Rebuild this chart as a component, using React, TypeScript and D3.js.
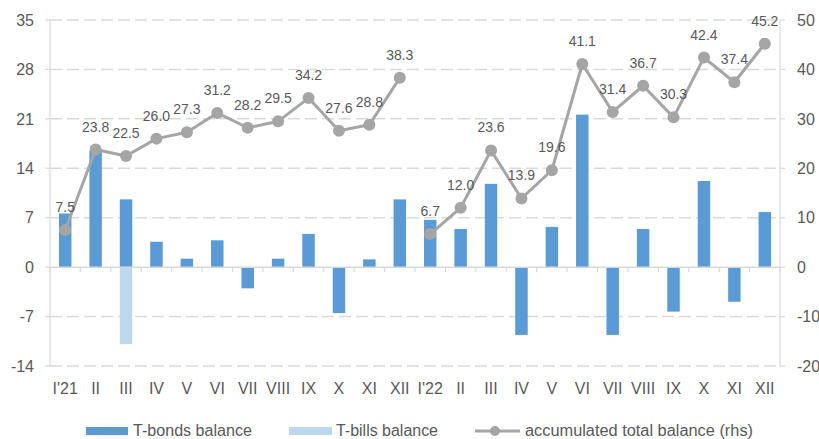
import React from "react";
import * as d3 from "d3";

const categories = ["I'21","II","III","IV","V","VI","VII","VIII","IX","X","XI","XII","I'22","II","III","IV","V","VI","VII","VIII","IX","X","XI","XII"];
const years = ["2021","2021","2021","2021","2021","2021","2021","2021","2021","2021","2021","2021","2022","2022","2022","2022","2022","2022","2022","2022","2022","2022","2022","2022"];
const tBonds = [7.6,16.5,9.6,3.6,1.2,3.8,-3.0,1.2,4.7,-6.5,1.1,9.6,6.7,5.4,11.8,-9.6,5.7,21.6,-9.6,5.4,-6.3,12.2,-4.9,7.8];
const tBills = [0,0,-10.9,0,0,0,0,0,0,0,0,0,0,0,0,0,0,0,0,0,0,0,0,0];
const accumulated = [7.5,23.8,22.5,26.0,27.3,31.2,28.2,29.5,34.2,27.6,28.8,38.3,6.7,12.0,23.6,13.9,19.6,41.1,31.4,36.7,30.3,42.4,37.4,45.2];
const leftTicks = [-14,-7,0,7,14,21,28,35];
const rightTicks = [-20,-10,0,10,20,30,40,50];
const legendLabels = ["T-bonds balance","T-bills balance","accumulated total balance (rhs)"];

const W = 819, H = 439;
const X0 = 50, X1 = 780, YT = 20, YB = 366;
const FONT = "'Liberation Sans', Arial, sans-serif";
const BOND = "#5B9BD5", BILL = "#BDD7EE", LINE = "#A5A5A5", GRID = "#D9D9D9", TXT = "#595959";

export default function App() {
  const idx = categories.map((_, i) => i);
  const x = d3.scaleBand<number>().domain(idx).range([X0, X1]).paddingInner(0.59).paddingOuter(0.295);
  const xb = d3.scaleBand<number>().domain(idx).range([X0, X1]);
  const yL = d3.scaleLinear().domain([-14, 35]).range([YB, YT]);
  const yR = d3.scaleLinear().domain([-20, 50]).range([YB, YT]);
  const cx = (i: number) => (xb(i) as number) + xb.bandwidth() / 2;
  const bw = x.bandwidth();
  const line = d3.line<number>().x((i) => cx(i)).y((i) => yR(accumulated[i]));
  const y0 = yL(0);
  const yearList = Array.from(new Set(years));
  const segments = yearList.map((yr) => idx.filter((i) => years[i] === yr));

  return (
    <svg width={W} height={H} style={{ position: "absolute", left: 0, top: 0, background: "#fff" }} fontFamily={FONT}>
      {/* gridlines */}
      {leftTicks.filter((t) => t !== 0).map((t) => (
        <line key={"g" + t} x1={X0} x2={X1} y1={yL(t)} y2={yL(t)} stroke={GRID} strokeWidth={1.5} strokeDasharray="12 5" />
      ))}
      {/* axes */}
      <line x1={X0} x2={X0} y1={YT} y2={YB} stroke={GRID} strokeWidth={1.2} />
      <line x1={X1} x2={X1} y1={YT} y2={YB} stroke={GRID} strokeWidth={1.2} />
      {leftTicks.map((t) => (
        <g key={"lt" + t}>
          <line x1={X0 - 5} x2={X0} y1={yL(t)} y2={yL(t)} stroke={GRID} strokeWidth={1.2} />
          <text x={34} y={yL(t)} dy="0.36em" textAnchor="end" fontSize={16} fill={TXT}>{t}</text>
        </g>
      ))}
      {rightTicks.map((t) => (
        <g key={"rt" + t}>
          <line x1={X1} x2={X1 + 5} y1={yR(t)} y2={yR(t)} stroke={GRID} strokeWidth={1.2} />
          <text x={797} y={yR(t)} dy="0.36em" textAnchor="start" fontSize={16} fill={TXT}>{t}</text>
        </g>
      ))}
      {/* bars */}
      {tBonds.map((v, i) => (
        <rect key={"b" + i} x={x(i)} width={bw} y={Math.min(yL(v), y0)} height={Math.abs(yL(v) - y0)} fill={BOND} />
      ))}
      {tBills.map((v, i) => v !== 0 ? (
        <rect key={"c" + i} x={x(i)} width={bw} y={Math.min(yL(v), y0)} height={Math.abs(yL(v) - y0)} fill={BILL} />
      ) : null)}
      {/* zero line and category ticks */}
      <line x1={X0} x2={X1} y1={y0} y2={y0} stroke={GRID} strokeWidth={1.5} />
      {idx.concat([categories.length]).map((i) => {
        const px = X0 + i * xb.step();
        return <line key={"ct" + i} x1={px} x2={px} y1={y0} y2={y0 + 5} stroke={GRID} strokeWidth={1.2} />;
      })}
      {categories.map((c, i) => (
        <text key={"cl" + i} x={cx(i)} y={388} dy="0.36em" textAnchor="middle" fontSize={16} fill={TXT}>{c}</text>
      ))}
      {/* line series, broken between years */}
      {segments.map((seg, k) => (
        <path key={"s" + k} d={line(seg) || ""} fill="none" stroke={LINE} strokeWidth={3} strokeLinejoin="round" />
      ))}
      {accumulated.map((v, i) => (
        <circle key={"m" + i} cx={cx(i)} cy={yR(v)} r={6} fill={LINE} />
      ))}
      {accumulated.map((v, i) => (
        <text key={"l" + i} x={cx(i)} y={yR(v) - 18} textAnchor="middle" fontSize={14} fill={TXT}>{v.toFixed(1)}</text>
      ))}
      {/* legend */}
      <g>
        <rect x={86} y={427} width={42} height={8} fill={BOND} />
        <text x={133} y={436} fontSize={16} fill={TXT} textLength={119} lengthAdjust="spacingAndGlyphs">{legendLabels[0]}</text>
        <rect x={289} y={427} width={43} height={8} fill={BILL} />
        <text x={336} y={436} fontSize={16} fill={TXT} textLength={102} lengthAdjust="spacingAndGlyphs">{legendLabels[1]}</text>
        <line x1={475} x2={520} y1={431} y2={431} stroke={LINE} strokeWidth={3} />
        <circle cx={495} cy={431} r={5} fill={LINE} />
        <text x={525} y={436} fontSize={16} fill={TXT} textLength={228} lengthAdjust="spacingAndGlyphs">{legendLabels[2]}</text>
      </g>
    </svg>
  );
}
